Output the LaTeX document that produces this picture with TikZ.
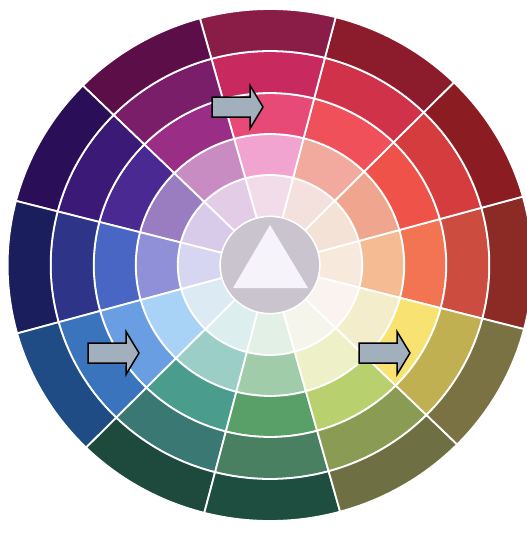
\documentclass[tikz,border=0pt]{standalone}
\usetikzlibrary{calc}
% ring colours: wk<sector>j<ring>, sector 0 is centred to the right, counter-clockwise; ring 1 innermost
\definecolor{wk0j1}{HTML}{F7E9DB}\definecolor{wk0j2}{HTML}{F5BC94}\definecolor{wk0j3}{HTML}{F27452}\definecolor{wk0j4}{HTML}{CC4C40}\definecolor{wk0j5}{HTML}{8C2A26}
\definecolor{wk1j1}{HTML}{F5E2D6}\definecolor{wk1j2}{HTML}{F0A68E}\definecolor{wk1j3}{HTML}{EE5248}\definecolor{wk1j4}{HTML}{D43C3E}\definecolor{wk1j5}{HTML}{8A1C22}
\definecolor{wk2j1}{HTML}{F4E0DC}\definecolor{wk2j2}{HTML}{F2AA9E}\definecolor{wk2j3}{HTML}{F0505A}\definecolor{wk2j4}{HTML}{D0324A}\definecolor{wk2j5}{HTML}{8C1C2C}
\definecolor{wk3j1}{HTML}{F2DCEA}\definecolor{wk3j2}{HTML}{F2A4D0}\definecolor{wk3j3}{HTML}{E84A78}\definecolor{wk3j4}{HTML}{C82A60}\definecolor{wk3j5}{HTML}{8A1C48}
\definecolor{wk4j1}{HTML}{E2CCE6}\definecolor{wk4j2}{HTML}{C88CC2}\definecolor{wk4j3}{HTML}{9A2E86}\definecolor{wk4j4}{HTML}{7A1E6A}\definecolor{wk4j5}{HTML}{5C0E48}
\definecolor{wk5j1}{HTML}{D8CBEA}\definecolor{wk5j2}{HTML}{9A7CC0}\definecolor{wk5j3}{HTML}{4A2A92}\definecolor{wk5j4}{HTML}{3A1A76}\definecolor{wk5j5}{HTML}{2A0E58}
\definecolor{wk6j1}{HTML}{D6D6F2}\definecolor{wk6j2}{HTML}{9090D8}\definecolor{wk6j3}{HTML}{4A66C4}\definecolor{wk6j4}{HTML}{2E3588}\definecolor{wk6j5}{HTML}{1A1E5C}
\definecolor{wk7j1}{HTML}{DCEAF4}\definecolor{wk7j2}{HTML}{A8D2F6}\definecolor{wk7j3}{HTML}{6A9EE2}\definecolor{wk7j4}{HTML}{3A74BC}\definecolor{wk7j5}{HTML}{1F4C84}
\definecolor{wk8j1}{HTML}{DDEEEE}\definecolor{wk8j2}{HTML}{9CCEC8}\definecolor{wk8j3}{HTML}{4A9C8C}\definecolor{wk8j4}{HTML}{3A7874}\definecolor{wk8j5}{HTML}{1E4A3E}
\definecolor{wk9j1}{HTML}{E2F0E6}\definecolor{wk9j2}{HTML}{A0CCAA}\definecolor{wk9j3}{HTML}{58A068}\definecolor{wk9j4}{HTML}{4A8062}\definecolor{wk9j5}{HTML}{1E4E40}
\definecolor{wk10j1}{HTML}{F6F5EC}\definecolor{wk10j2}{HTML}{EEF0C8}\definecolor{wk10j3}{HTML}{B8D06E}\definecolor{wk10j4}{HTML}{8A9C54}\definecolor{wk10j5}{HTML}{6E7044}
\definecolor{wk11j1}{HTML}{FAF3EF}\definecolor{wk11j2}{HTML}{F4EDCB}\definecolor{wk11j3}{HTML}{F8E272}\definecolor{wk11j4}{HTML}{C0B052}\definecolor{wk11j5}{HTML}{7A7242}
\definecolor{hubgray}{HTML}{CAC4CE}
\definecolor{trianglewhite}{HTML}{F6F4FA}
\definecolor{arrowfill}{HTML}{A2B0BE}
\tikzset{
  cell/.style={draw=white, line width=1.8pt, line join=round},
  pointer/.pic={\draw[fill=arrowfill, draw=black, line width=1.5pt, line join=miter]
     (0,-10) -- (38,-10) -- (38,-21.5) -- (51,0) -- (38,21.5) -- (38,10) -- (0,10) -- cycle;}
}
\begin{document}
\begin{tikzpicture}[x=1pt,y=-1pt]
\useasboundingbox (0,0) rectangle (527,533);
\fill[white] (0,0) rectangle (527,533);
\begin{scope}[shift={(270,265)}, x=1.025pt, y=1pt]
  \foreach \k in {0,...,11} {
    \pgfmathsetmacro{\a}{-14.5+30*\k}
    \pgfmathsetmacro{\b}{15.5+30*\k}
    \foreach \j/\ri/\ro in {1/48.5/90, 2/90/131, 3/131/172, 4/172/214, 5/214/256} {
      \fill[cell, fill=wk\k j\j] (\a:\ri) arc[start angle=\a, end angle=\b, radius=\ri]
         -- (\b:\ro) arc[start angle=\b, end angle=\a, radius=\ro] -- cycle;
    }
  }
  \fill[hubgray, draw=white, line width=1.2pt] (0,0) circle[radius=48.5];
\end{scope}
\fill[trianglewhite] (270,225) -- (308,288) -- (233,288) -- cycle;
\pic at (212,107) {pointer};
\pic at (88,353) {pointer};
\pic at (359,353) {pointer};
\end{tikzpicture}
\end{document}
